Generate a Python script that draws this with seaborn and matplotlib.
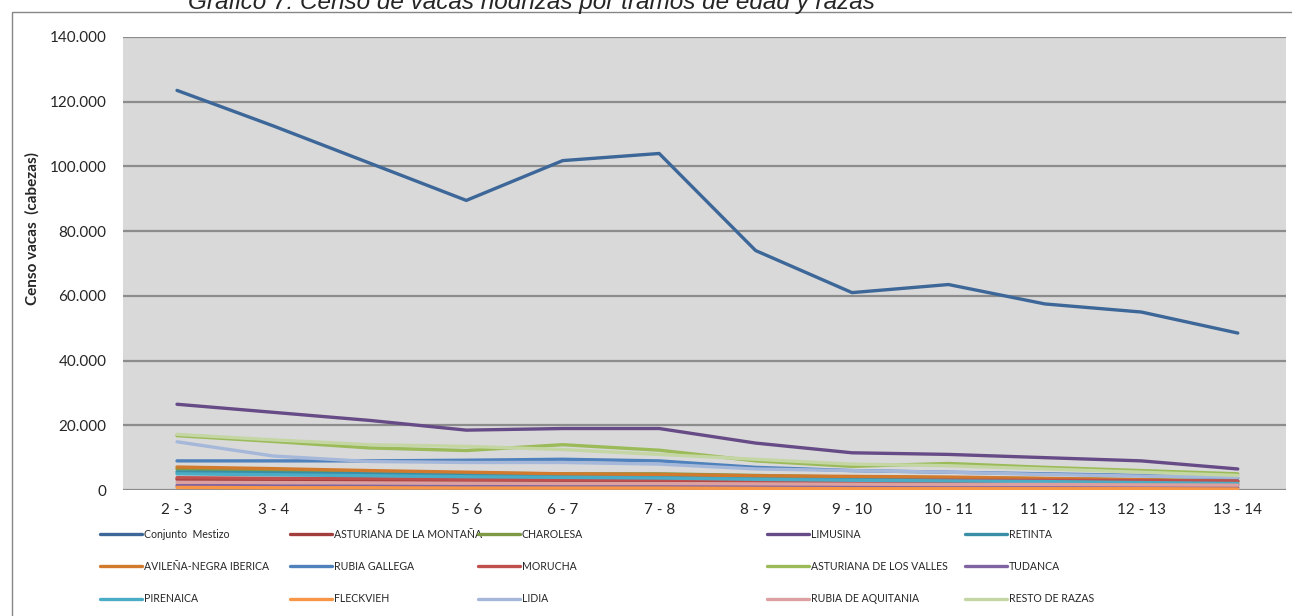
import pandas as pd
import seaborn as sns
from matplotlib import pyplot as plt
from matplotlib.patches import Rectangle

sns.set_theme(style="white")
plt.rcParams['font.family'] = ['Lato', 'DejaVu Sans']

tramos = ["2 - 3", "3 - 4", "4 - 5", "5 - 6", "6 - 7", "7 - 8",
          "8 - 9", "9 - 10", "10 - 11", "11 - 12", "12 - 13", "13 - 14"]

conjunto_mestizo = [123500, 112500, 101000, 89500, 101800, 104000, 74000, 61000, 63500, 57500, 55000, 48500]
asturiana_montana = [3300, 3100, 2900, 2700, 2600, 2600, 2400, 2200, 2100, 2000, 1900, 1700]
charolesa = [6500, 6000, 5500, 5200, 5000, 5000, 4500, 4000, 3800, 3500, 3200, 2800]
limusina = [26500, 24000, 21500, 18500, 19000, 19000, 14500, 11500, 11000, 10000, 9000, 6500]
retinta = [5600, 5300, 5000, 4700, 4500, 4400, 4000, 3700, 3500, 3200, 3000, 2600]
avilena = [7100, 6600, 6000, 5500, 5000, 4800, 4400, 4200, 4000, 3600, 3200, 2600]
rubia_gallega = [9000, 9000, 9000, 9200, 9500, 9000, 7000, 6000, 5500, 5000, 4500, 3700]
morucha = [3800, 3600, 3500, 3300, 3200, 3200, 3000, 2900, 3000, 3000, 2900, 2800]
asturiana_valles = [16800, 15000, 13000, 12200, 14000, 12300, 9000, 7300, 8200, 7000, 6000, 5000]
tudanca = [1400, 1300, 1300, 1200, 1200, 1200, 1100, 1000, 1000, 900, 900, 800]
pirenaica = [5000, 4700, 4400, 4100, 3900, 3700, 3300, 3000, 2800, 2600, 2300, 2000]
fleckvieh = [800, 700, 700, 600, 600, 600, 500, 400, 400, 400, 400, 300]
lidia = [14900, 10500, 8800, 8500, 8500, 8000, 6500, 6000, 5500, 4800, 4300, 3900]
rubia_aquitania = [2400, 2300, 2200, 2100, 2000, 2000, 1900, 1800, 1700, 1700, 1600, 1500]
resto_razas = [17200, 15500, 14000, 13500, 12500, 11000, 9500, 8000, 7500, 6500, 5500, 4500]

razas = ["Conjunto  Mestizo", "ASTURIANA DE LA MONTAÑA", "CHAROLESA", "LIMUSINA", "RETINTA",
         "AVILEÑA-NEGRA IBERICA", "RUBIA GALLEGA", "MORUCHA", "ASTURIANA DE LOS VALLES", "TUDANCA",
         "PIRENAICA", "FLECKVIEH", "LIDIA", "RUBIA DE AQUITANIA", "RESTO DE RAZAS"]
valores = [conjunto_mestizo, asturiana_montana, charolesa, limusina, retinta,
           avilena, rubia_gallega, morucha, asturiana_valles, tudanca,
           pirenaica, fleckvieh, lidia, rubia_aquitania, resto_razas]

colors = ["#3C6798", "#A13D3B", "#7E9A45", "#664B87", "#3A8FA6",
          "#D17A2E", "#4F81BD", "#C0504D", "#9BBB59", "#8064A2",
          "#4BACC6", "#F79646", "#A5B8DA", "#DBA09F", "#C4D6A4"]

rows = []
for raza, vals in zip(razas, valores):
    for t, v in zip(tramos, vals):
        rows.append({"tramo": t, "censo": v, "raza": raza})
data = pd.DataFrame(rows)

W, H = 1292, 616
fig = plt.figure(figsize=(W / 100, H / 100), dpi=100)
ax = fig.add_axes([123 / W, 1 - 490 / H, 1163 / W, 453 / H])
ax.set_facecolor("#D9D9D9")

sns.lineplot(data=data, x="tramo", y="censo", hue="raza", hue_order=razas,
             palette=colors, linewidth=2.4, sort=False, ax=ax)

ax.set_ylim(0, 140000)
ax.set_xlim(-0.56, 11.5)
yt = list(range(0, 140001, 20000))
ax.set_yticks(yt)
ax.set_yticklabels([f"{v:,}".replace(",", ".") for v in yt], fontsize=11)
ax.tick_params(axis="x", labelsize=11, pad=9, length=0)
ax.tick_params(axis="y", pad=12, length=0)
for v in yt:
    ax.axhline(v, color="#8C8C8C", linewidth=1.6, zorder=0.5)
for s in ax.spines.values():
    s.set_visible(False)
ax.set_xlabel("")
ax.set_ylabel("Censo vacas  (cabezas)", fontsize=11, fontweight="bold")
ax.yaxis.set_label_coords((40 - 123) / 1163, 0.578)

handles, labels = ax.get_legend_handles_labels()
ax.get_legend().remove()
col_x = [100, 290, 478, 767, 965]
for c, x in enumerate(col_x):
    idx = [r * 5 + c for r in range(3)]
    fig.legend([handles[i] for i in idx], [labels[i] for i in idx],
               loc="upper left", bbox_to_anchor=(x / W, 1 - 529 / H),
               frameon=False, fontsize=7.6, handlelength=4.0, handletextpad=0.15,
               borderpad=0, borderaxespad=0, labelspacing=2.0)

fig.patches.append(Rectangle((12 / W, -0.05), 1.1, 1 - 12 / H + 0.05,
                             transform=fig.transFigure, fill=False,
                             edgecolor="#868686", linewidth=1))
fig.text(531 / W, 1 - 9 / H, "Gráfico 7: Censo de vacas nodrizas por tramos de edad y razas",
         ha="center", va="baseline", fontsize=17.5, style="italic",
         family=["Liberation Sans", "DejaVu Sans"])

plt.savefig("out.png", dpi=100)
